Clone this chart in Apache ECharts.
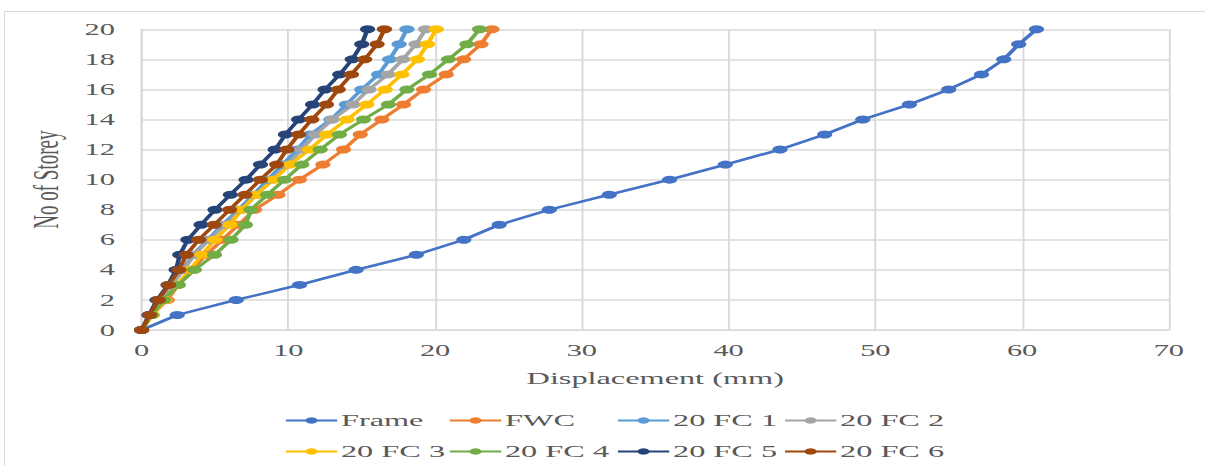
<!DOCTYPE html>
<html>
<head>
<meta charset="utf-8">
<script src="https://cdn.jsdelivr.net/npm/echarts/dist/echarts.min.js"></script>
<style>
  html, body { margin: 0; padding: 0; background: #ffffff; overflow: hidden; }
  #frame { position: absolute; left: 4px; top: 11px; width: 1220px; height: 470px; border: 1px solid #d9d9d9; box-sizing: border-box; }
  #chart { position: absolute; left: 0; top: 0; width: 634px; height: 466px; transform: scaleX(1.9006); transform-origin: 0 0; }
</style>
</head>
<body>
<div id="frame"></div>
<div id="chart"></div>
<script>
// ---- data ----
const storeys = [0,1,2,3,4,5,6,7,8,9,10,11,12,13,14,15,16,17,18,19,20];
const seriesNames = ['Frame','FWC','20 FC 1','20 FC 2','20 FC 3','20 FC 4','20 FC 5','20 FC 6'];
const frame = [0,2.43,6.45,10.76,14.62,18.72,21.96,24.37,27.78,31.87,35.98,39.78,43.5,46.55,49.14,52.32,55.0,57.23,58.75,59.77,60.98];
const fwc   = [0,0.7,1.75,2.5,3.4,4.4,5.5,6.6,7.7,9.3,10.75,12.35,13.76,14.9,16.37,17.85,19.21,20.76,21.94,23.12,23.87];
const fc1   = [0,0.6,1.3,2.0,2.8,3.5,4.5,5.5,6.6,7.6,8.6,9.6,10.6,11.5,12.9,13.95,15.0,16.15,16.9,17.55,18.08];
const fc2   = [0,0.6,1.3,2.05,2.85,3.6,4.6,5.7,6.8,7.85,8.9,9.95,10.9,11.85,13.0,14.4,15.5,16.8,17.8,18.7,19.35];
const fc3   = [0,0.75,1.6,2.4,3.3,4.1,5.0,6.03,6.8,7.8,9.0,10.12,11.44,12.62,14.0,15.35,16.6,17.74,18.8,19.48,20.07];
const fc4   = [0,0.68,1.5,2.5,3.6,4.97,6.1,7.08,7.44,8.58,9.75,10.92,12.17,13.48,15.12,16.82,18.08,19.62,20.91,22.17,23.03];
const fc5   = [0,0.5,1.05,1.8,2.35,2.6,3.15,4.05,5.0,6.05,7.12,8.1,9.1,9.8,10.7,11.65,12.5,13.5,14.35,15.0,15.4];
const fc6   = [0,0.55,1.15,1.85,2.55,3.05,3.9,4.95,6.0,7.05,8.1,9.2,9.9,10.7,11.6,12.6,13.4,14.3,15.2,16.05,16.55];
const colors = ['#4472C4','#ED7D31','#5B9BD5','#A5A5A5','#FFC000','#70AD47','#264478','#9E480E'];
const xTitle = 'Displacement (mm)';
const yTitle = 'No of Storey';

const allValues = [frame, fwc, fc1, fc2, fc3, fc4, fc5, fc6];
const FONT = 'Liberation Serif';
const TXT = '#595959';
const GRID = '#d9d9d9';

// legend layout: 4 columns x 2 rows (inner, pre-stretch coordinates)
const legendCols = [149.4, 235.7, 324.1, 412.0];
const legendRows = [412, 443];

const legends = seriesNames.map((name, k) => ({
  data: [name],
  left: legendCols[k % 4],
  top: legendRows[Math.floor(k / 4)],
  padding: 0,
  itemWidth: 27,
  itemHeight: 8,
  textStyle: { fontFamily: FONT, fontSize: 17, color: TXT, padding: [0, 0, 0, -3] },
}));

const chart = echarts.init(document.getElementById('chart'), null, { renderer: 'svg' });
chart.setOption({
  animation: false,
  color: colors,
  textStyle: { fontFamily: FONT },
  grid: { left: 74.5, right: 19, top: 29.3, bottom: 136, containLabel: false },
  legend: legends,
  xAxis: {
    type: 'value', min: 0, max: 70, interval: 10,
    name: xTitle, nameLocation: 'middle', nameGap: 40,
    nameTextStyle: { fontFamily: FONT, fontSize: 17, color: TXT },
    axisLine: { show: true, lineStyle: { color: GRID, width: 1 } },
    axisTick: { show: false },
    axisLabel: { fontFamily: FONT, fontSize: 16, color: TXT, margin: 12 },
    splitLine: { show: true, lineStyle: { color: GRID, width: 1 } },
  },
  yAxis: {
    type: 'value', min: 0, max: 20, interval: 2,
    name: yTitle, nameLocation: 'middle', nameGap: 35, nameRotate: 90,
    nameTextStyle: { fontFamily: FONT, fontSize: 19, color: TXT },
    axisLine: { show: true, lineStyle: { color: GRID, width: 1 } },
    axisTick: { show: false },
    axisLabel: { fontFamily: FONT, fontSize: 16, color: TXT, margin: 14 },
    splitLine: { show: true, lineStyle: { color: GRID, width: 1.5 } },
  },
  series: seriesNames.map((name, k) => ({
    name: name,
    type: 'line',
    data: storeys.map((s, i) => [allValues[k][i], s]),
    symbol: 'circle',
    symbolSize: 8,
    showAllSymbol: true,
    lineStyle: { width: 2.4, color: colors[k] },
    itemStyle: { color: colors[k] },
    emphasis: { disabled: true },
  })),
});
</script>
</body>
</html>
